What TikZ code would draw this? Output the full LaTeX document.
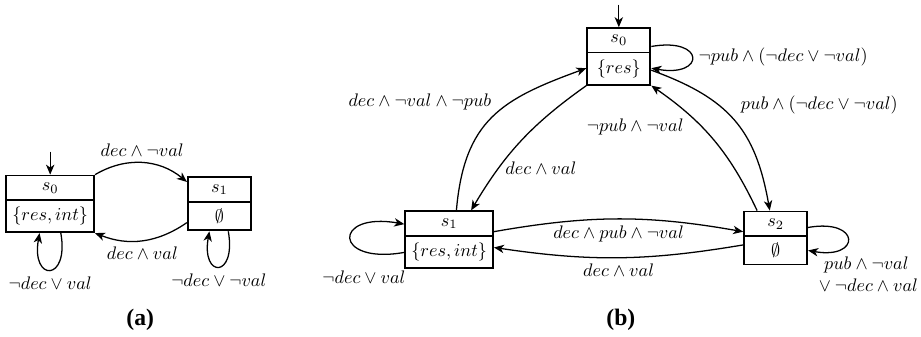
\documentclass[tikz,border=0pt]{standalone}
\usepackage{fontspec}
\newfontfamily\capfont{Liberation Serif}[BoldFont={Liberation Serif Bold}]
\usetikzlibrary{shapes.multipart,arrows.meta}

\begin{document}
\begin{tikzpicture}[x=1cm, y=1cm, >={Stealth[length=5.5pt,width=4.6pt,inset=1.6pt]}]
        \tikzstyle{state}=[rectangle split,rectangle split parts=2,draw,line width=1pt,minimum width=1.22cm,inner sep=3.33pt]
        \tikzstyle{trans}=[->,line width=0.7pt]
        \tikzstyle{caption}=[font=\capfont\bfseries\fontsize{13}{15}\selectfont]

        \useasboundingbox (0,0) rectangle (17.8,6.51);

        % left automaton
        \node[state] (A_0) at (0.97,2.57) {$s_0$ \nodepart{two} $\{res, int\}$};
        \node[state] (A_1) at (4.24,2.57) {$s_1$ \nodepart{two} $\emptyset$};
        \coordinate (A_in) at (0.97,3.58);

        \draw[trans] (A_in) -- (A_0);
        \draw[trans] (A_0.north east) to[bend left=35] node[above] {$dec \wedge \neg val$} (A_1.146);
        \draw[trans] (A_1.210) to[bend left=28] node[below] {$dec \wedge val$} (A_0.south east);
        \draw[trans] (A_0.-70) to[out=-80,in=-100,looseness=6] node[below] {$\neg dec \vee val$} (A_0.-110);
        \draw[trans] (A_1.-72) to[out=-80,in=-100,looseness=6.5] node[below] {$\neg dec \vee \neg val$} (A_1.-110);

        % right automaton
        \node[state] (B_0) at (11.96,5.42) {$s_0$ \nodepart{two} $\{res\}$};
        \node[state] (B_1) at (8.68,1.88) {$s_1$ \nodepart{two} $\{res, int\}$};
        \node[state] (B_2) at (14.99,1.91) {$s_2$ \nodepart{two} $\emptyset$};
        \coordinate (B_in) at (11.96,6.42);

        \draw[trans] (B_in) -- (B_0);
        \draw[trans] (B_1.76) to[out=85,in=200,looseness=1.2] node[above left,xshift=3pt] {$dec \wedge \neg val \wedge \neg pub$} (B_0.200);
        \draw[trans] (B_0.south west) to[bend right=12] node[pos=0.72,right] {$dec \wedge val$} (B_1.53);
        \draw[trans] (B_0.17) to[out=10,in=-10,looseness=6.5] node[right] {$\neg pub \wedge (\neg dec \vee \neg val)$} (B_0.-20);
        \draw[trans] (B_0.-23) to[out=-20,in=100,looseness=1.15] node[above right] {$pub \wedge (\neg dec \vee \neg val)$} (B_2.102);
        \draw[trans] (B_2.124) to[bend right=15] node[pos=0.62,left=6pt] {$\neg pub \wedge \neg val$} (B_0.south east);
        \draw[trans] (B_1.10) to[bend left=10] node[below] {$dec \wedge pub \wedge \neg val$} (B_2.169);
        \draw[trans] (B_2.192) to[bend left=9] node[below] {$dec \wedge val$} (B_1.-10);
        \draw[trans] (B_1.196) to[out=190,in=170,looseness=6.6] node[pos=0.25,below=7pt] {$\neg dec \vee val$} (B_1.161);
        \draw[trans] (B_2.18) to[out=10,in=-10,looseness=6] node[pos=1,below right,align=center] {$pub \wedge \neg val$\\${}\vee \neg dec \wedge val$} (B_2.-21);

        \node[caption] (cap_a) at (2.71,0.33) {(a)};
        \node[caption] (cap_b) at (12.0,0.33) {(b)};
    \end{tikzpicture}
\end{document}
